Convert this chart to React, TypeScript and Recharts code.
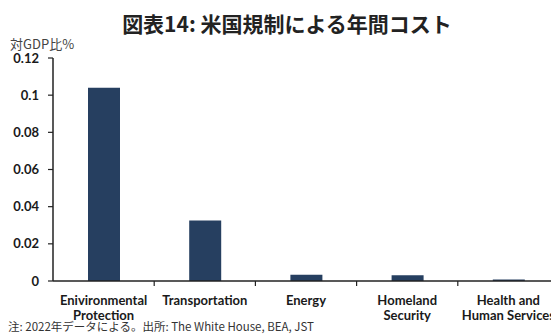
import { Bar, BarChart, XAxis, YAxis } from 'recharts';

const categories = [
  'Enivironmental\nProtection',
  'Transportation',
  'Energy',
  'Homeland\nSecurity',
  'Health and\nHuman Services',
];
const costShare = [0.104, 0.0325, 0.0034, 0.0031, 0.0008];
const yTicks = [0, 0.02, 0.04, 0.06, 0.08, 0.1, 0.12];

const title = '図表14: 米国規制による年間コスト';
const unitLabel = '対GDP比%';
const footnote = '注: 2022年データによる。出所: The White House, BEA, JST';

const data = categories.map((name, i) => ({ name, value: costShare[i] }));

const BAR_COLOR = '#263f60';
const AXIS_COLOR = '#222';
const LABEL_FONT = 'Lato, "Noto Sans", sans-serif';
const JP_FONT = '"Noto Sans CJK JP", sans-serif';

function CategoryTick(props: any) {
  const { x, y, payload } = props;
  const half = payload?.offset || 50.6;
  const lines = String(payload.value).split('\n');
  return (
    <g>
      <line x1={x + half} y1={y - 8} x2={x + half} y2={y - 3} stroke={AXIS_COLOR} strokeWidth={1.2} />
      <text
        x={x}
        y={y + 16}
        textAnchor="middle"
        fill="#1a1a1a"
        fontFamily={LABEL_FONT}
        fontWeight={700}
        fontSize={13}
      >
        {lines.map((line, i) => (
          <tspan key={i} x={x} dy={i === 0 ? 0 : 15}>
            {line}
          </tspan>
        ))}
      </text>
    </g>
  );
}

export default function App() {
  return (
    <div
      style={{
        position: 'absolute',
        left: 0,
        top: 0,
        width: 551,
        height: 334,
        overflow: 'hidden',
        background: '#fff',
      }}
    >
      <div
        style={{
          position: 'absolute',
          left: 0,
          top: 8,
          width: 574,
          textAlign: 'center',
          fontFamily: JP_FONT,
          fontWeight: 700,
          fontSize: 21,
          lineHeight: '30px',
          color: '#222',
        }}
      >
        {title}
      </div>
      <div
        style={{
          position: 'absolute',
          left: 10,
          top: 35,
          fontFamily: JP_FONT,
          fontSize: 13,
          lineHeight: '18px',
          color: '#444',
        }}
      >
        {unitLabel}
      </div>
      <div style={{ position: 'absolute', left: 0, top: 0 }}>
        <BarChart
          width={560}
          height={334}
          data={data}
          margin={{ top: 58, right: 1, left: 0, bottom: 0 }}
          barSize={32}
        >
          <XAxis
            dataKey="name"
            interval={0}
            tickLine={false}
            axisLine={{ stroke: AXIS_COLOR, strokeWidth: 1.5 }}
            tick={<CategoryTick />}
            height={53}
          />
          <YAxis
            domain={[0, 0.12]}
            ticks={yTicks}
            width={53}
            tickSize={5}
            tickMargin={9}
            tickFormatter={(v: number) => `${v}`}
            tick={{ fill: '#1a1a1a', fontSize: 13, fontWeight: 700, fontFamily: LABEL_FONT }}
            axisLine={{ stroke: AXIS_COLOR, strokeWidth: 1.5 }}
            tickLine={{ stroke: AXIS_COLOR, strokeWidth: 1.2 }}
          />
          <Bar dataKey="value" fill={BAR_COLOR} isAnimationActive={false} />
        </BarChart>
      </div>
      <div
        style={{
          position: 'absolute',
          left: 8,
          top: 318,
          fontFamily: JP_FONT,
          fontSize: 11.5,
          lineHeight: '16px',
          color: '#333',
          whiteSpace: 'nowrap',
        }}
      >
        {footnote}
      </div>
    </div>
  );
}
